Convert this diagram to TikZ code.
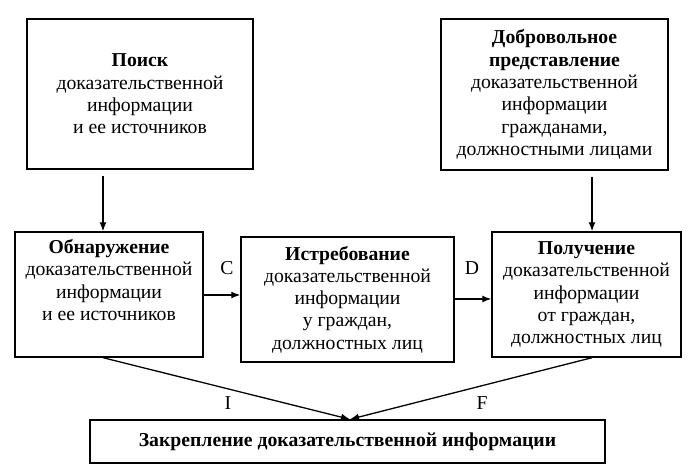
\documentclass[tikz,border=0pt]{standalone}
\usepackage{fontspec}
\setmainfont{Liberation Serif}
\usetikzlibrary{arrows,arrows.meta,shapes,calc}

\begin{document}
\begin{tikzpicture}[auto]
	\tikzstyle{block} = [rectangle, draw, line width=1.4pt, align=center, inner sep=0pt, font=\fontsize{19.7}{22.3}\selectfont]
	\tikzstyle{line} = [draw, -{Latex[length=9pt,width=7pt]}, line width=1.3pt]
	\tikzstyle{letter} = [font=\fontsize{19.7}{22.3}\selectfont]
	\useasboundingbox (-109pt,294.5pt) rectangle (591pt,-178.5pt);

	\node [block, minimum width=188pt, minimum height=125pt] (Obnar) {\textbf{Обнаружение}\\доказательственной\\информации\\и ее источников\\\strut};
	\node [block, right of=Obnar, node distance=238.5pt, yshift=-5pt, minimum width=213pt, minimum height=125pt] (Istreb) {\textbf{Истребование}\\доказательственной\\информации\\у граждан,\\должностных лиц};
	\node [block, right of=Obnar, node distance=477.5pt, minimum width=189pt, minimum height=125pt] (Poluch) {\textbf{Получение}\\доказательственной\\информации\\от граждан,\\должностных лиц};
	\node [block, above of=Obnar, node distance=200.5pt, xshift=31pt, minimum width=226pt, minimum height=150pt] (Poisk) {\textbf{Поиск}\\доказательственной\\информации\\и ее источников};
	\node [block, above of=Poluch, node distance=200pt, xshift=-32pt, minimum width=227pt, minimum height=151pt] (Dobrov) {\textbf{Добровольное}\\\textbf{представление}\\доказательственной\\информации\\гражданами,\\должностными лицами};
	\node [block, below of=Istreb, node distance=142pt, minimum width=515pt, minimum height=43pt] (Zakrepl) {\textbf{Закрепление доказательственной информации}};

	\path [line] ([xshift=-6pt]Obnar.north |- Poisk.south) ++(0,-6pt) -- ([xshift=-6pt]Obnar.north);
	\path [line] ([xshift=5.5pt]Poluch.north |- Dobrov.south) ++(0,-6pt) -- ([xshift=5.5pt]Poluch.north);
	\path [line] (Obnar.east |- 0,-0.5pt) -- (Istreb.west |- 0,-0.5pt);
	\path [line] (Istreb.east |- 0,-4.5pt) -- (Poluch.west |- 0,-4.5pt);
	\path [line] ([xshift=-6pt]Obnar.south) -- ([xshift=2.5pt]Zakrepl.north);
	\path [line] ([xshift=5.5pt]Poluch.south) -- ([xshift=2.5pt]Zakrepl.north);

	\node [letter] (LabC) at (118pt,26.5pt) {C};
	\node [letter] (LabD) at (363pt,26.5pt) {D};
	\node [letter] (LabI) at (119pt,-108.5pt) {I};
	\node [letter] (LabF) at (373pt,-108.5pt) {F};
\end{tikzpicture}
\end{document}
